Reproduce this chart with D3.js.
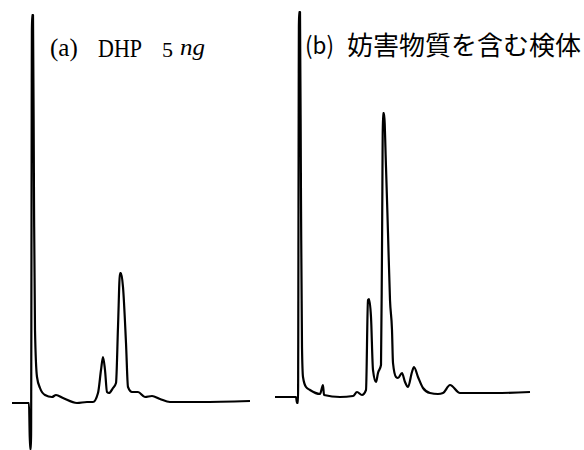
<!DOCTYPE html>
<html>
<head>
<meta charset="utf-8">
<script src="https://cdn.jsdelivr.net/npm/d3@7"></script>
<style>
  body { margin: 0; background: #fff; }
  svg { display: block; }
  .serif { font-family: "Times New Roman", Times, "Liberation Serif", "DejaVu Serif", serif; }
</style>
</head>
<body>
<div id="chart"></div>
<script>
// retention time (arbitrary units, injection = 0) and detector signal (arbitrary units)
const timeA = [-19, -2, -1, 0, 1, 2, 3, 4, 6, 9, 14, 21, 25, 32, 46, 56, 62, 67, 70, 72, 74, 76, 78, 82, 85, 87, 89, 90, 92, 95, 97, 101, 107, 114, 121, 129, 139, 169, 219];
const signalA = [0, 0, -46, -46, 388, 388, 203, 73, 26, 15, 8, 6, 8, 5, 0, 1, 1, 10, 33, 46, 33, 11, 10, 15, 20, 76, 130, 130, 116, 60, 16, 11, 11, 6, 7, 4, 1, 1, 2];

const timeB = [-23, -2, -1, 0, 1, 2, 3, 4, 5, 8, 12, 22, 25, 26, 42, 55, 59, 64, 68, 70, 71, 73, 75, 78, 80, 83, 84, 85, 86, 88, 90, 92, 94, 95, 98, 100, 104, 107, 110, 114, 116, 120, 125, 132, 140, 145, 152, 162, 197, 232];
const signalB = [0, 0, -6, -6, 385, 385, 197, 50, 20, 10, 7, 3, 12, 2, 0, 1, 5, 2, 7, 97, 98, 80, 27, 15, 24, 32, 147, 284, 284, 230, 164, 97, 67, 34, 20, 19, 24, 15, 10, 25, 30, 20, 9, 4, 3, 4, 12, 4, 4, 5];

const labelA = ["(a)", "DHP", "5", "ng"];
const labelB = ["(b)", "妨害物質を含む検体"];

const width = 584, height = 450;

const svg = d3.select("#chart").append("svg")
    .attr("width", width)
    .attr("height", height);

// each panel gets its own offset scales, same units
const xA = d3.scaleLinear().domain([0, 100]).range([31, 131]);
const yA = d3.scaleLinear().domain([0, 100]).range([403, 303]);
const xB = d3.scaleLinear().domain([0, 100]).range([298, 398]);
const yB = d3.scaleLinear().domain([0, 100]).range([397, 297]);

function drawTrace(times, values, x, y) {
    const pts = times.map((t, i) => [t, values[i]]);
    const line = d3.line()
        .x(d => x(d[0]))
        .y(d => y(d[1]))
        .curve(d3.curveMonotoneX);
    svg.append("path")
        .datum(pts)
        .attr("d", line)
        .attr("fill", "none")
        .attr("stroke", "#000")
        .attr("stroke-width", 2.2)
        .attr("stroke-linejoin", "round");
}

drawTrace(timeA, signalA, xA, yA);
drawTrace(timeB, signalB, xB, yB);

// panel labels
svg.append("text").attr("class", "serif").attr("x", 50).attr("y", 56)
    .attr("font-size", 25)
    .text(labelA[0]);
svg.append("text").attr("class", "serif").attr("x", 98).attr("y", 57)
    .attr("font-size", 25)
    .attr("textLength", 44).attr("lengthAdjust", "spacingAndGlyphs")
    .text(labelA[1]);
svg.append("text").attr("class", "serif").attr("x", 162).attr("y", 57)
    .attr("font-size", 22)
    .text(labelA[2]);
svg.append("text").attr("class", "serif").attr("x", 180).attr("y", 55)
    .attr("font-size", 24)
    .attr("font-style", "italic")
    .attr("textLength", 25).attr("lengthAdjust", "spacingAndGlyphs")
    .text(labelA[3]);

const cjk = "Noto Sans CJK JP, Noto Sans, sans-serif";
svg.append("text").attr("x", 305).attr("y", 54)
    .attr("font-family", cjk).attr("font-size", 24)
    .attr("textLength", 29).attr("lengthAdjust", "spacingAndGlyphs")
    .text(labelB[0]);
svg.append("text").attr("x", 347).attr("y", 55)
    .attr("font-family", cjk).attr("font-size", 26)
    .text(labelB[1]);
</script>
</body>
</html>
